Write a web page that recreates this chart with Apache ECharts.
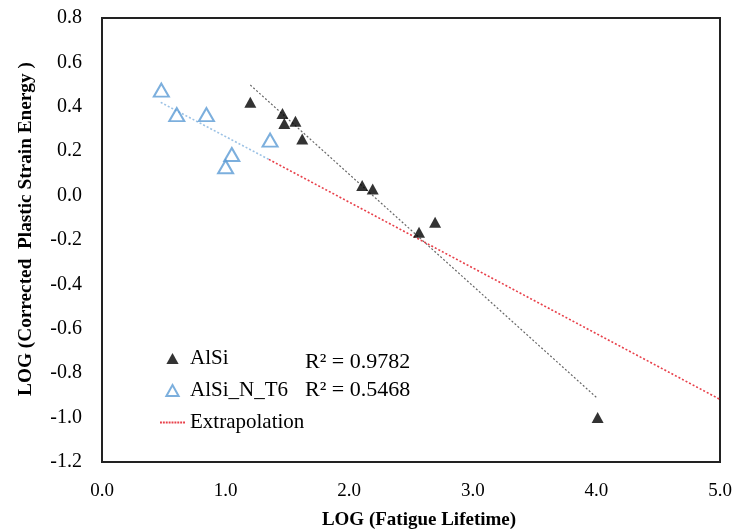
<!DOCTYPE html>
<html>
<head>
<meta charset="utf-8">
<script src="https://cdn.jsdelivr.net/npm/echarts@6/dist/echarts.min.js"></script>
<style>
  html, body { margin: 0; padding: 0; background: #fff; }
  #chart { width: 735px; height: 531px; }
</style>
</head>
<body>
<div id="chart"></div>
<script>
// AlSi specimens: log fatigue lifetime vs log corrected plastic strain energy
const alsiLife   = [1.20, 1.46, 1.475, 1.565, 1.62, 2.105, 2.19, 2.565, 2.695, 4.01];
const alsiEnergy = [0.42, 0.37, 0.325, 0.335, 0.255, 0.045, 0.03, -0.165, -0.12, -1.0];

// AlSi_N_T6 specimens
const t6Life   = [0.48, 0.605, 0.845, 1.36, 1.05, 1.0];
const t6Energy = [0.475, 0.365, 0.365, 0.25, 0.185, 0.13];

// Fitted trend lines (end points) and the extrapolated T6 fit
const alsiFit  = [[1.2, 0.498], [4.0, -0.909]];
const t6Fit    = [[0.475, 0.42], [1.35, 0.163]];
const extrapol = [[1.35, 0.163], [5.0, -0.918]];

const rSquared = ['R\u00B2 = 0.9782', 'R\u00B2 = 0.5468'];

const xTicks = [0, 1, 2, 3, 4, 5];
const yTicks = [-1.2, -1.0, -0.8, -0.6, -0.4, -0.2, 0, 0.2, 0.4, 0.6, 0.8];

const xTitle = 'LOG (Fatigue Lifetime)';
const yTitle = 'LOG (Corrected  Plastic Strain Energy )';

const pairs = (xs, ys) => xs.map((x, i) => [x, ys[i]]);
const FONT = '"Liberation Serif", "Times New Roman", serif';

// legend glyphs: small up-triangle and a short dotted stroke
const TRI_ICON = 'path://M5,0L10,9L0,9Z';
const DOT_ICON = 'path://' + [0, 3, 6, 9, 12, 15, 18, 21, 24]
  .map(x => 'M' + x + ',0h2v2h-2z').join(' ');

const chart = echarts.init(document.getElementById('chart'), null, { renderer: 'canvas' });

chart.setOption({
  backgroundColor: '#fff',
  animation: false,
  textStyle: { fontFamily: FONT, color: '#000' },
  grid: { left: 102, right: 15, top: 18, bottom: 69, show: false },
  xAxis: {
    type: 'value',
    min: xTicks[0], max: xTicks[xTicks.length - 1], interval: 1,
    axisLine: { show: true, onZero: false, lineStyle: { color: '#222', width: 2 } },
    axisTick: { show: false },
    splitLine: { show: false },
    axisLabel: { fontFamily: FONT, fontSize: 19, color: '#000', margin: 20,
      formatter: v => v.toFixed(1) }
  },
  yAxis: {
    type: 'value',
    min: yTicks[0], max: yTicks[yTicks.length - 1], interval: 0.2,
    axisLine: { show: true, onZero: false, lineStyle: { color: '#222', width: 2 } },
    axisTick: { show: false },
    splitLine: { show: false },
    axisLabel: { fontFamily: FONT, fontSize: 20, color: '#000', margin: 20,
      formatter: v => v.toFixed(1) }
  },
  legend: {
    data: [
      { name: 'AlSi', icon: TRI_ICON },
      { name: 'AlSi_N_T6', icon: TRI_ICON },
      { name: 'Extrapolation', icon: DOT_ICON, itemStyle: { color: '#e8404a' } }
    ],
    orient: 'vertical',
    left: 155, top: 343,
    itemWidth: 25, itemHeight: 11, itemGap: 11,
    symbolKeepAspect: true,
    selectedMode: false,
    textStyle: { fontFamily: FONT, fontSize: 21, color: '#000' }
  },
  graphic: [
    { type: 'text', left: 305, top: 351,
      style: { text: rSquared[0], font: '22px ' + FONT, fill: '#000' } },
    { type: 'text', left: 305, top: 379,
      style: { text: rSquared[1], font: '22px ' + FONT, fill: '#000' } },
    { type: 'text', x: 419, y: 520,
      style: { text: xTitle, font: 'bold 19px ' + FONT, fill: '#000',
        textAlign: 'center', textVerticalAlign: 'middle' } },
    { type: 'text', x: 26, y: 229, rotation: Math.PI / 2,
      style: { text: yTitle, font: 'bold 19.3px ' + FONT, fill: '#000',
        textAlign: 'center', textVerticalAlign: 'middle' } },
    // frame around plot area
    { type: 'rect', shape: { x: 102, y: 18, width: 618, height: 444 },
      style: { fill: 'none', stroke: '#222', lineWidth: 2 }, silent: true, z: 0 }
  ],
  series: [
    {
      name: 'AlSi fit', type: 'line', data: alsiFit, showSymbol: false, symbol: 'none',
      lineStyle: { color: '#666', width: 1.2, type: [2, 2] }, z: 2, silent: true
    },
    {
      name: 'AlSi_N_T6 fit', type: 'line', data: t6Fit, showSymbol: false, symbol: 'none',
      lineStyle: { color: '#9cc2e5', width: 1.6, type: [2, 2] }, z: 2, silent: true
    },
    {
      name: 'Extrapolation', type: 'line', data: extrapol, showSymbol: false, symbol: 'none',
      lineStyle: { color: '#e8404a', width: 1.6, type: [2, 2] },
      itemStyle: { color: '#e8404a' }, z: 2, silent: true
    },
    {
      name: 'AlSi', type: 'scatter', data: pairs(alsiLife, alsiEnergy),
      symbol: 'triangle', symbolSize: [12, 11],
      itemStyle: { color: '#000' }, z: 4
    },
    {
      name: 'AlSi_N_T6', type: 'scatter', data: pairs(t6Life, t6Energy),
      symbol: 'triangle', symbolSize: [15, 13],
      itemStyle: { color: 'rgba(255,255,255,0)', borderColor: '#5b9bd5', borderWidth: 2 }, z: 4
    }
  ]
});
</script>
</body>
</html>
